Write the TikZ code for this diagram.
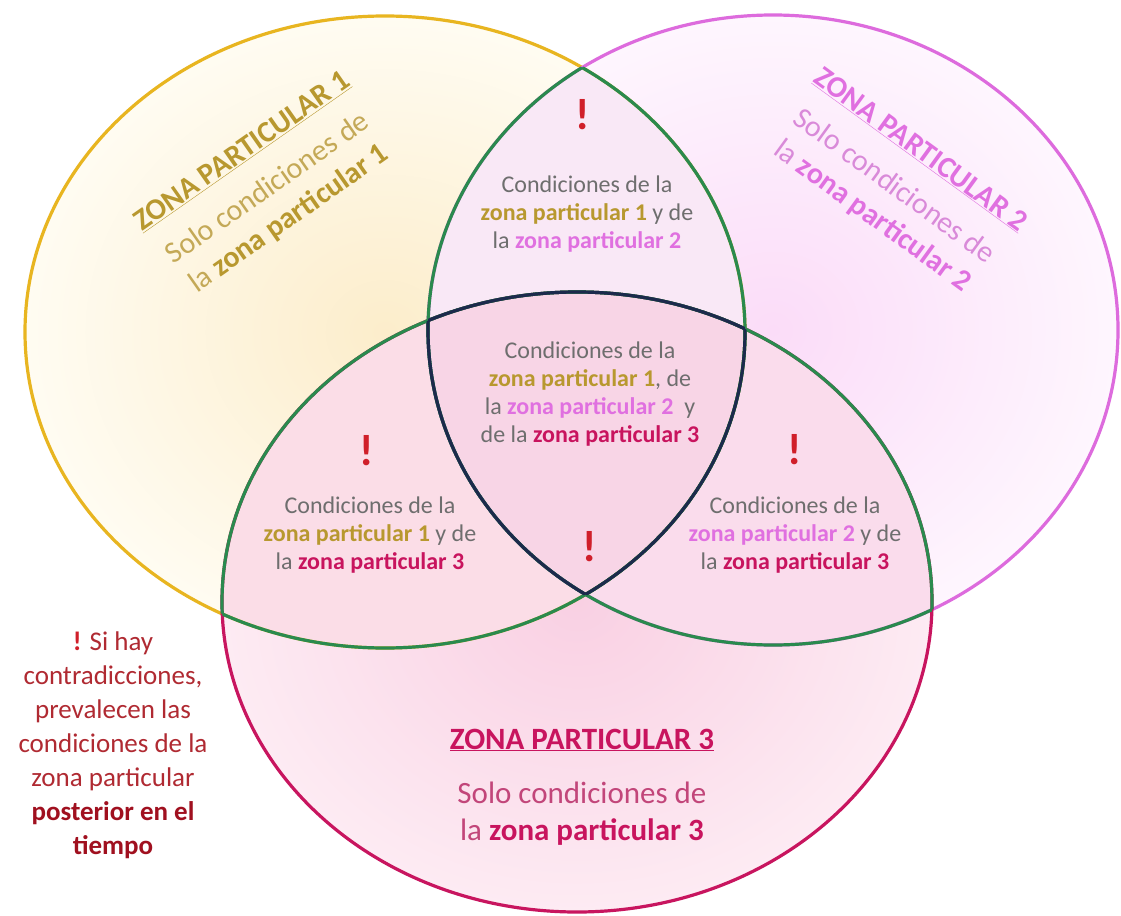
\documentclass[tikz,border=0pt]{standalone}
\usepackage{fontspec}
\setmainfont{Carlito}
\usetikzlibrary{calc}
\usepackage{xcolor}

\definecolor{gold}{HTML}{E8B520}
\definecolor{orchid}{HTML}{DD6BDD}
\definecolor{crimson}{HTML}{C8155F}
\definecolor{lensgreen}{HTML}{2A8A4E}
\definecolor{navy}{HTML}{1C2A4C}
\definecolor{greytext}{HTML}{6E6E6E}
\definecolor{textA}{HTML}{B8982F}
\definecolor{textAlight}{HTML}{C4A957}
\definecolor{textB}{HTML}{E070E0}
\definecolor{textBlight}{HTML}{D98AD9}
\definecolor{textC}{HTML}{C8145E}
\definecolor{textClight}{HTML}{C2467A}
\definecolor{warnred}{HTML}{D01F2A}
\definecolor{notered}{HTML}{B02A32}
\definecolor{notebold}{HTML}{A0101F}
\definecolor{fillAin}{HTML}{FCEDCB}
\definecolor{fillAout}{HTML}{FFFCF2}
\definecolor{fillBin}{HTML}{FBDCF8}
\definecolor{fillBout}{HTML}{FEF6FE}
\definecolor{fillCin}{HTML}{F9D0E3}
\definecolor{fillCout}{HTML}{FDEBF3}
\definecolor{fillAB}{HTML}{F9E8F6}
\definecolor{fillAC}{HTML}{FBDDE7}
\definecolor{fillBC}{HTML}{FADCEC}
\definecolor{fillABC}{HTML}{F8D5E6}

\newcommand{\zoneA}{(385,332) ellipse [x radius=360, y radius=316]}
\newcommand{\zoneB}{(773,330) ellipse [x radius=345, y radius=315]}
\newcommand{\zoneC}{(577,602) ellipse [x radius=355, y radius=310]}
\newcommand{\zonaUno}[1]{\textbf{\textcolor{textA}{#1}}}
\newcommand{\zonaDos}[1]{\textbf{\textcolor{textB}{#1}}}
\newcommand{\zonaTres}[1]{\textbf{\textcolor{textC}{#1}}}

\begin{document}
\begin{tikzpicture}[x=1pt,y=-1pt,
  rim/.style={line width=3.2pt},
  cond/.style={align=center, text=greytext, font=\fontsize{24}{28}\selectfont},
  warn/.style={text=warnred, font=\fontsize{44}{44}\selectfont\bfseries},
  zonetext/.style={align=center, font=\fontsize{30}{37}\selectfont}]
\useasboundingbox (0,0) rectangle (1121,915);
\fill[white] (0,0) rectangle (1121,915);
% fondos
\shade[inner color=fillAin, outer color=fillAout] \zoneA;
\shade[inner color=fillBin, outer color=fillBout] \zoneB;
\shade[inner color=fillCin, outer color=fillCout] \zoneC;
\begin{scope} \clip \zoneA; \fill[fillAB] \zoneB; \end{scope}
\begin{scope} \clip \zoneA; \fill[fillAC] \zoneC; \end{scope}
\begin{scope} \clip \zoneB; \fill[fillBC] \zoneC; \end{scope}
\begin{scope} \clip \zoneA; \clip \zoneB; \fill[fillABC] \zoneC; \end{scope}
% bordes
\draw[rim, gold] \zoneA;
\draw[rim, orchid] \zoneB;
\draw[rim, crimson] \zoneC;
\begin{scope} \clip \zoneA; \draw[rim, lensgreen] \zoneB; \draw[rim, lensgreen] \zoneC; \end{scope}
\begin{scope} \clip \zoneB; \draw[rim, lensgreen] \zoneA; \draw[rim, lensgreen] \zoneC; \end{scope}
\begin{scope} \clip \zoneC; \draw[rim, lensgreen] \zoneA; \draw[rim, lensgreen] \zoneB; \end{scope}
\begin{scope} \clip \zoneB; \clip \zoneC; \draw[rim, navy] \zoneA; \end{scope}
\begin{scope} \clip \zoneA; \clip \zoneC; \draw[rim, navy] \zoneB; \end{scope}
\begin{scope} \clip \zoneA; \clip \zoneB; \draw[rim, navy] \zoneC; \end{scope}
% rotulos de zona
\node[zonetext, rotate=35] (rotuloUno) at (266,186)
  {\textcolor{textA}{\textbf{\underline{ZONA PARTICULAR 1}}}\\[8pt]
   \textcolor{textAlight}{Solo condiciones de}\\
   \textcolor{textAlight}{la} \zonaUno{zona particular 1}};
\node[zonetext, rotate=-36] (rotuloDos) at (896,184)
  {\textcolor{textB}{\textbf{\underline{ZONA PARTICULAR 2}}}\\[8pt]
   \textcolor{textBlight}{Solo condiciones de}\\
   \textcolor{textBlight}{la} \zonaDos{zona particular 2}};
\node[zonetext, text=textC, font=\fontsize{31}{36}\selectfont\bfseries] (rotuloTres) at (582,740)
  {\underline{ZONA PARTICULAR 3}};
\node[zonetext, text=textClight, font=\fontsize{31}{37}\selectfont] (soloTres) at (582,814)
  {Solo condiciones de\\ la \zonaTres{zona particular 3}};
% intersecciones
\node[cond] (condAB) at (587,214)
  {Condiciones de la\\ \zonaUno{zona particular 1} y de\\ la \zonaDos{zona particular 2}};
\node[cond] (condABC) at (590,394)
  {Condiciones de la\\ \zonaUno{zona particular 1}, de\\ la \zonaDos{zona particular 2}\ \ y\\ de la \zonaTres{zona particular 3}};
\node[cond] (condAC) at (370,535)
  {Condiciones de la\\ \zonaUno{zona particular 1} y de\\ la \zonaTres{zona particular 3}};
\node[cond] (condBC) at (795,535)
  {Condiciones de la\\ \zonaDos{zona particular 2} y de\\ la \zonaTres{zona particular 3}};
\node[warn] (warnAB) at (583,115) {!};
\node[warn] (warnAC) at (367,451) {!};
\node[warn] (warnBC) at (795,450) {!};
\node[warn] (warnABC) at (590,547) {!};
% nota
\node[align=center, text=notered, font=\fontsize{27}{34}\selectfont] (nota) at (113,745)
  {\textcolor{warnred}{\textbf{!}} Si hay\\ contradicciones,\\ prevalecen las\\ condiciones de la\\ zona particular\\
   \textcolor{notebold}{\textbf{posterior en el}}\\ \textcolor{notebold}{\textbf{tiempo}}};
\end{tikzpicture}
\end{document}
